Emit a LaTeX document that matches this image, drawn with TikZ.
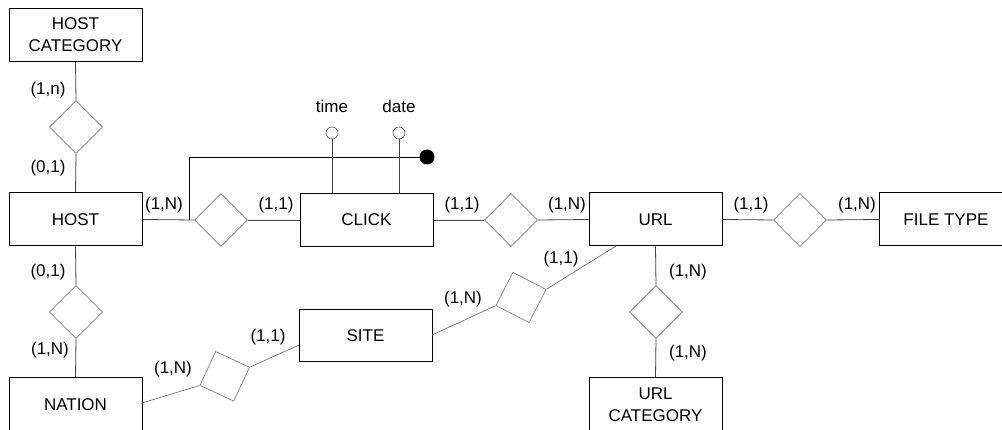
\documentclass[tikz,border=0pt]{standalone}
\usepackage{fontspec}
\setmainfont{Liberation Sans}
\usetikzlibrary{shapes.geometric}
\begin{document}
\begin{tikzpicture}[x=1pt,y=-1pt,
  every node/.style={font=\fontsize{17}{22}\selectfont},
  entity/.style={draw=black,line width=1pt,minimum width=133pt,minimum height=53pt,inner sep=0pt,align=center},
  rel/.style={draw=black!50,line width=0.7pt,diamond,minimum width=53pt,minimum height=53pt,inner sep=0pt},
  conn/.style={draw=black!75,line width=0.8pt},
  dconn/.style={draw=black!55,line width=0.7pt},
  card/.style={inner sep=0pt},
  attr/.style={circle,draw=black!70,line width=0.6pt,fill=white,minimum size=12pt,inner sep=0pt},
  keydot/.style={circle,fill=black,minimum size=15pt,inner sep=0pt}]
\clip (0,0) rectangle (1002,430);
\useasboundingbox (0,0) rectangle (1002,430);
% entities
\node[entity] (hc) at (75.5,35) {HOST\\CATEGORY};
\node[entity] (host) at (75.5,219.5) {HOST};
\node[entity] (click) at (366.5,220) {CLICK};
\node[entity] (url) at (655.5,219.5) {URL};
\node[entity] (ft) at (946,219.5) {FILE TYPE};
\node[entity,minimum height=52pt] (site) at (365.5,336) {SITE};
\node[entity,minimum height=54pt] (nation) at (75.5,405) {NATION};
\node[entity,minimum height=54pt] (urlcat) at (655.5,405) {URL\\CATEGORY};
% relationships
\node[rel] (r1) at (76,127) {};
\node[rel] (r2) at (221,220) {};
\node[rel] (r3) at (511,220) {};
\node[rel] (r4) at (800,220) {};
\node[rel] (r5) at (76,312) {};
\node[rel] (r6) at (656,312) {};
\node[rel,rotate=20] (r7) at (224.7,376.3) {};
\node[rel,rotate=18] (r8) at (521,297.5) {};
% connectors
\draw[conn] (hc.south) -- (r1.north);
\draw[conn] (r1.south) -- (host.north);
\draw[conn] (host.east) -- (r2.west);
\draw[conn] (r2.east) -- (click.west);
\draw[conn] (click.east) -- (r3.west);
\draw[conn] (r3.east) -- (url.west);
\draw[conn] (url.east) -- (r4.west);
\draw[conn] (r4.east) -- (ft.west);
\draw[conn] (host.south) -- (r5.north);
\draw[conn] (r5.south) -- (nation.north);
\draw[conn] (url.south) -- (r6.north);
\draw[conn] (r6.south) -- (urlcat.north);
\coordinate (n1) at (142,403);
\coordinate (s1) at (299,345);
\coordinate (s2) at (432,335);
\coordinate (u1) at (616,246);
\draw[dconn] (n1) -- (r7.west);
\draw[dconn] (r7.east) -- (s1);
\draw[dconn] (s2) -- (r8.west);
\draw[dconn] (r8.east) -- (u1);
% identifier
\coordinate (k1) at (189,220);
\coordinate (k2) at (189,157);
\node[keydot] (kd) at (427,157) {};
\draw[line width=0.9pt] (k1) -- (k2) -- (kd.center);
\node[attr] (ta) at (332,133) {};
\node[attr] (da) at (399,133) {};
\draw[conn] (ta.south) -- (ta.south |- click.north);
\draw[conn] (da.south) -- (da.south |- click.north);
\node[card] (tl) at (332,106) {time};
\node[card] (dl) at (399,106) {date};
% cardinalities
\node[card] (c1) at (48,90) {(1,n)};
\node[card] (c2) at (48,168) {(0,1)};
\node[card] (c3) at (48,272) {(0,1)};
\node[card] (c4) at (50,350) {(1,N)};
\node[card] (c5) at (164,205) {(1,N)};
\node[card] (c6) at (276,205) {(1,1)};
\node[card] (c7) at (462,205) {(1,1)};
\node[card] (c8) at (567,205) {(1,N)};
\node[card] (c9) at (751,205) {(1,1)};
\node[card] (c10) at (857,205) {(1,N)};
\node[card] (c11) at (688,272) {(1,N)};
\node[card] (c12) at (688,353) {(1,N)};
\node[card] (c13) at (561,259) {(1,1)};
\node[card] (c14) at (463,299) {(1,N)};
\node[card] (c15) at (173,369) {(1,N)};
\node[card] (c16) at (268,337) {(1,1)};
\end{tikzpicture}
\end{document}
